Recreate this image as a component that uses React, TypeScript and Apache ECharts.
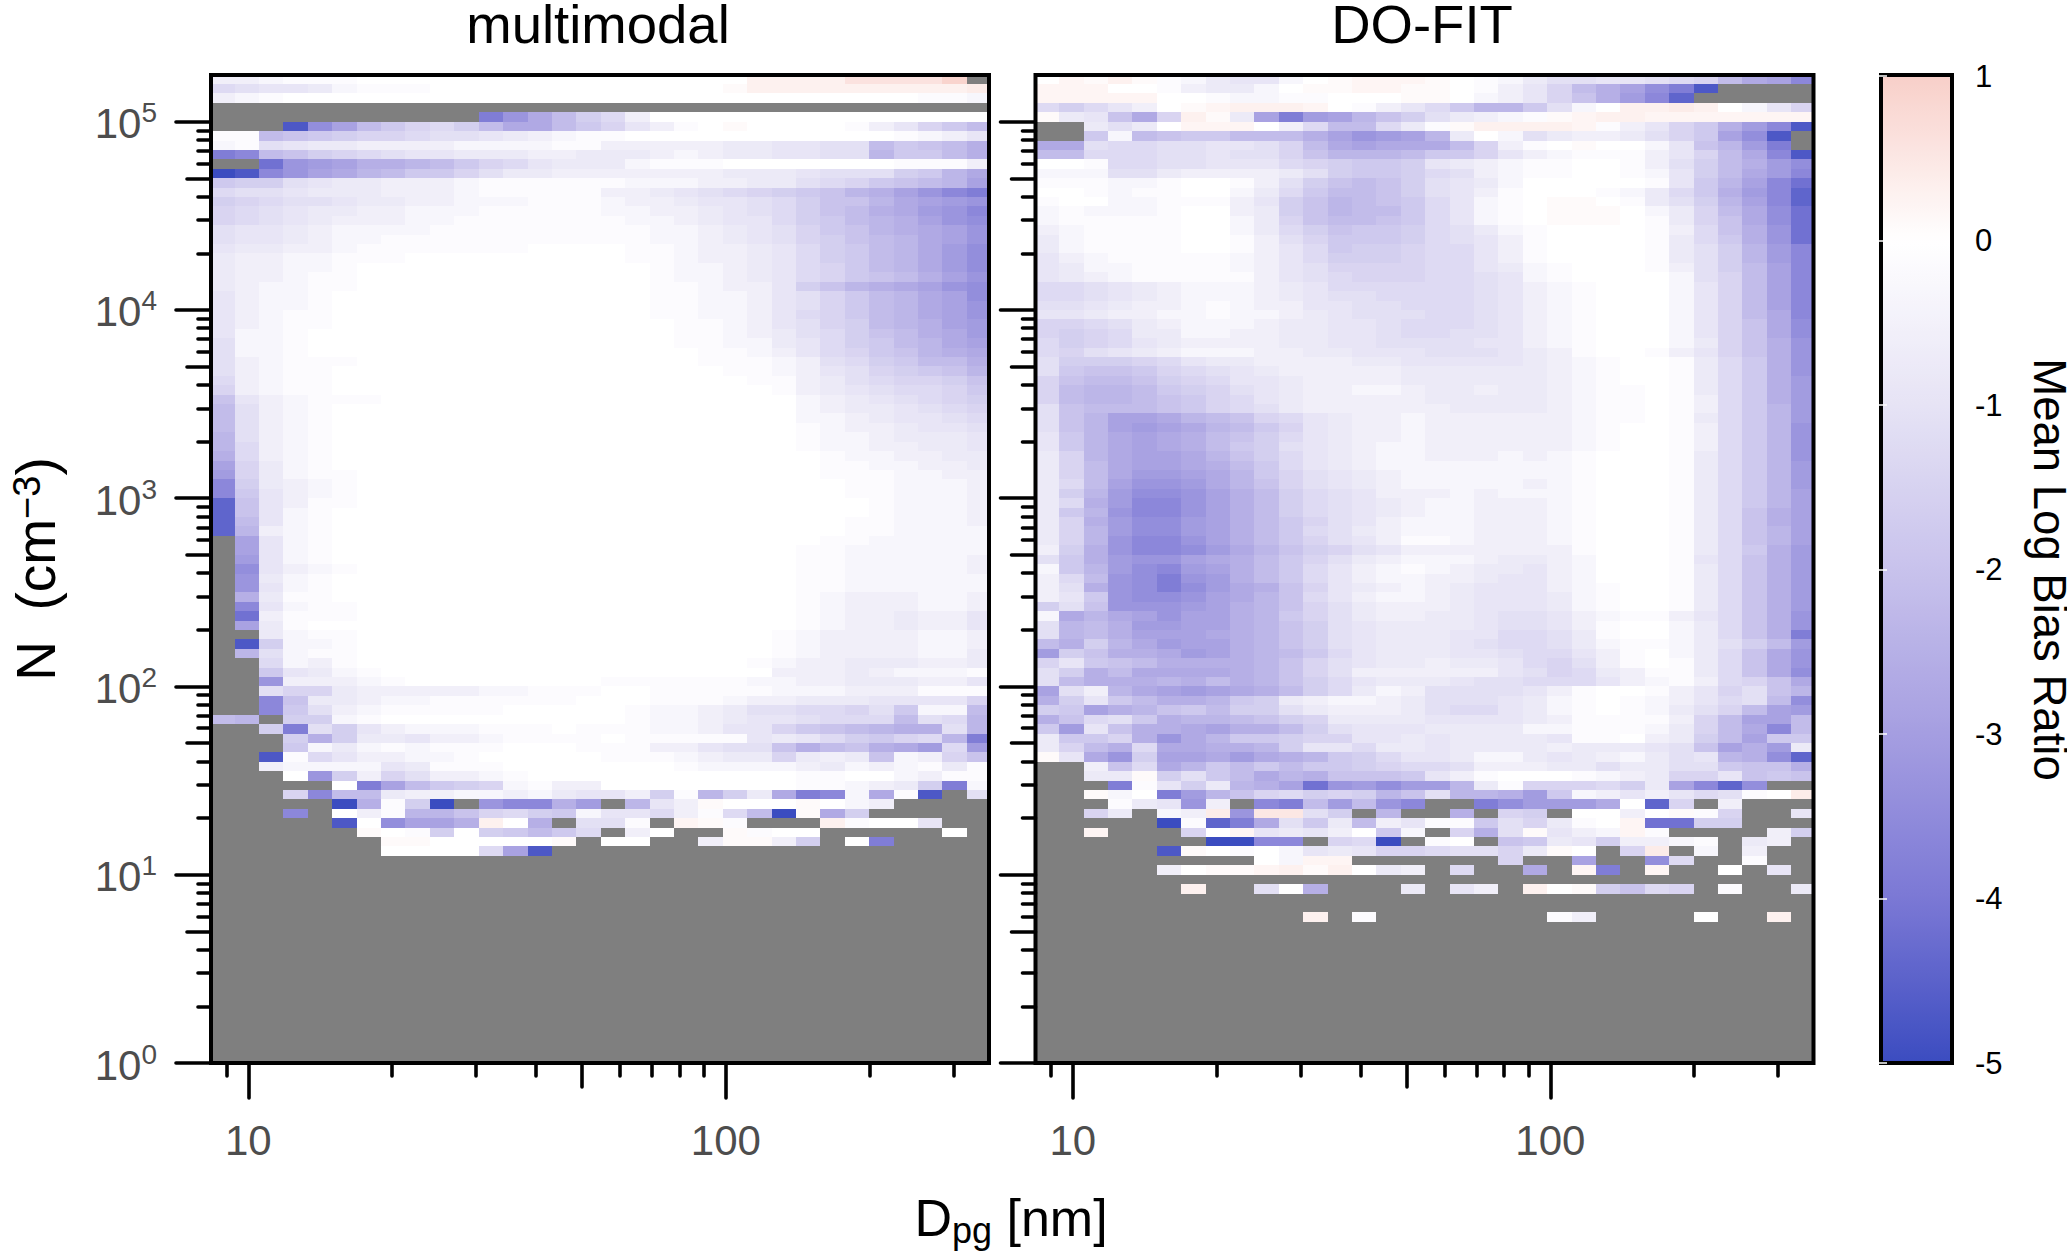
import React, { useEffect, useRef } from "react";
import * as echarts from "echarts";

// One string per N bin (top to bottom), one character per Dpg bin (left to right; '|' only marks mid-row).
// '#': no data; digits/lowercase: index into levelValues; 'A'..'J': value = +0.1 .. +1.0
const levelValues = [
  0, -0.14, -0.32, -0.56, -0.76, -0.94, -1.1, -1.26, -1.44, -1.62, -1.8, -1.98, -2.16,
  -2.34, -2.52, -2.7, -2.88, -3.06, -3.24, -3.42, -3.6, -3.88, -4.16, -4.44, -4.72, -5,
];

const multimodalRows: string[] = [
  "3321110000000000|000000CCCCFFFFI#",
  "7655421110000000|00000ACCCCCCCCCD",
  "3210000000000000|0000000000000112",
  "",
  "###########lifc9|7300000000000000",
  "###ojgca879cffca|85310A00001358ac",
  "11cba98876654321|1000000000001235",
  "2165443333222211|33333445566cabce",
  "lkcb987655444334|44323445566daace",
  "##mihgeedca87544|4211100000001113",
  "pokigfdcaa864433|3333344456669adf",
  "a996544333211111|12223344678abcdg",
  "7665444333211111|33456789abdegikl",
  "9876654433222111|233455679bbdfghi",
  "8765443322211111|223345679bcefhik",
  "8765433322111111|122345579acdegij",
  "6554322221111111|112234568abdefgi",
  "6554322111111111|1122345689bcdfgi",
  "5443321111111000|0112334579acdfhj",
  "4332211100000000|0112334579acdfhj",
  "4332210000000000|0012234578acdfhj",
  "4332110000000000|0012234578abcegi",
  "4322110000000000|001123359bdefgij",
  "5322100000000000|0011223568acdfgj",
  "5322100000000000|0011223568acdfgi",
  "5321100000000000|0011223578acdfgi",
  "5321100000000000|00011235689cdegh",
  "5221000000000000|00011234679bcefh",
  "6221000000000000|00011224579acdfg",
  "6221000000000000|00001123578abdef",
  "6321110000000000|000011123679acce",
  "6321100000000000|0000011235689abd",
  "7321100000000000|000000113467889b",
  "8321100000000000|000000013456778a",
  "b532111000000000|0000000023456789",
  "c632100000000000|0000000023445678",
  "c632100000000000|0000000022345567",
  "c632100000000000|0000000012334556",
  "d632100000000000|0000000012234445",
  "d732100000000000|0000000012233445",
  "e732100000000000|0000000001223344",
  "g842100000000000|0000000001122334",
  "h842110000000000|0000000001112233",
  "k943210000000000|0000000000112223",
  "ka53210000000000|0000000000112223",
  "nb53110000000000|0000000000012223",
  "nb52100000000000|0000000000012223",
  "nc52100000000000|0000000000112223",
  "nd32100000000000|0000000000112222",
  "#g52100000000000|0000000001122222",
  "#g52100000000000|0000000011222222",
  "#h52100000000000|0000000011222223",
  "#j53210000000000|0000000011222223",
  "#i42100000000000|0000000011222222",
  "#i52100000000000|0000000011222222",
  "#e41100000000000|0000000012333223",
  "#k52110000000000|0000000012333223",
  "#m31110000000000|0000000012334335",
  "#g41000000000000|0000000012334335",
  "##42110000000000|0000000123333223",
  "#o92210000000000|0000000123333223",
  "#d62110000000000|0000000123333224",
  "##72310000000000|0000001233444334",
  "##a5421000000000|0000000333432221",
  "##i3332100000000|1111112233444335",
  "##68843333322111|0011111222333111",
  "##kb443221111110|0011123344455558",
  "##ka632111110000|012234667786a22c",
  "cd#9921000000000|012234556777c67d",
  "##9l695322211101|11223558abcdee6d",
  "###9e94453321111|01111154579a87dl",
  "###a242121110001|1133566becbefh7h",
  "##o1753322100000|11123448434b238b",
  "##32222541110000|0001222234232141",
  "###0i93863321000|0000000011002311",
  "#####0lgca982133|00000000112349l2",
  "###8kcc433223245|5391d94flk2f1o#6",
  "#####pe19p#ikkeh|#d53A000A023####",
  "###k#031ddb879a2|557317cpAf9#####",
  "#####o0jggeC0e#6|61#BA1###C1005##",
  "######A01909aca7|#30##A100#####0#",
  "#######AA00000A#|00##3AA39#0l####",
  "#######00007go##|################",
];

const doFitRows: string[] = [
  "0BACA1245520ABBB|A01246655678cfgk",
  "BBB00134420AABBA|A01358cegjlo####",
  "BBBBB0012211000A|A02358behkn#####",
  "797530ABCCCB0135|7adda620CCDC0258",
  "A45bf8CA4glhgdb9|64321ABCCBBBBBBB",
  "##4640BBB037cc74|1ACCCCB1358aehko",
  "##a2cbaacccegihg|d4026433468agjo#",
  "ff677665568cfgff|fc8310A0025bdhl#",
  "cc777665668bdddc|aa8532111358cfko",
  "0017766555789aa9|543211001369cehj",
  "2226643333469aa9|763211001259cfhk",
  "111221001369bcb9|65420000015adgkm",
  "00121100247accb9|65310001247aehkn",
  "10022111359bdcba|75210AA01469dgkn",
  "21222100349bdcca|75210AAA0248cfjm",
  "21111100248bccba|75210AAA0148bfjm",
  "321111002479baa9|764210000137beim",
  "421111001368aaa9|765310000147aeim",
  "421111001357a998|7753100001469dhk",
  "5321111123579998|7753100001469dhk",
  "5422111123568888|7754210001369cgk",
  "5432111113567888|7765210000268cgk",
  "7765432223457777|7765321000258cgk",
  "7765432223456677|7765321000258cgk",
  "6654332123355667|7765321000258cgk",
  "5543322122345666|7765321000258cfk",
  "8876432223445567|7765321000258bfj",
  "8987442233445567|7665321000258bfj",
  "7987543333445566|6655321000248bei",
  "7865432223344555|6665431001358bei",
  "6999875443333445|5555432100147aei",
  "6abba87654333334|4444432100147aei",
  "8bccb98755433334|4444432100147aeh",
  "8cddca9865433223|4434432110147aeh",
  "8cddcba875433333|4444432110137aeh",
  "6bcccba876433333|3444432110137adh",
  "6bdggfdcb8754332|3333332110147adh",
  "6bdghgfdca854332|3333332100137adi",
  "5adfgfecb9754332|3333332100137adi",
  "5adfgfeca9654322|3333332100137adi",
  "48dfggfdb9754322|3332321000147adi",
  "48cfggfeca754322|2222221000147adh",
  "48cfhhgfda865432|2222221000147adh",
  "47cgiihfdb865432|2222321000147adh",
  "49dhjjigec976533|3232221000147adg",
  "47ehkkigec976543|2233321000147adg",
  "4adikkigec976543|2233321000147beg",
  "48ehjjhgeca86532|2233321000147beg",
  "48dhjjhgeca76432|2233321000147bdg",
  "48dikkigeca86531|1233321000147bdg",
  "39eikkjhfdb98653|3333331000147aeh",
  "6aehiigfeca86432|2234432000157beh",
  "2adhjkhgeca75321|2344532000147beh",
  "37cijliheca75322|3345532000147beh",
  "36eijljhfeb85432|3455532100147beh",
  "35aijjigfdb75322|3455542100147beh",
  "96biiihgedb86433|3455542100147beh",
  "2fdfgiggeda86433|4456653211357bei",
  "6dcehhggedb96544|4456653100247bei",
  "6dcegggfedb96544|4557764100247bel",
  "ce9dfhggedb96544|45677642112469ch",
  "h9beefhgedca7544|4556775310247bfi",
  "85abceeeedb86544|3445786310147bfi",
  "69ecffffedb86333|3335687431147bfj",
  "6ceeedecedb97544|45667775321378bf",
  "g63dfghgfec97423|66665310013586bd",
  "e95aceeda9432234|66654210123576cj",
  "9agedbac99643334|6775421012468cgh",
  "eb76aeddcb984444|555543111138cggc",
  "ah5beefgeec96555|444422111248cfkc",
  "4aa8eifdaa988554|544445110349cgaa",
  "48ce7ffeed955744|54444344456bgeh4",
  "A5fi9ggfhfeda975|542245432465dejn",
  "##3b7fdacacaa987|763334464466abbe",
  "##44A96acfdebbba|5310001234885bab",
  "###l1594degmihjh|hd41888794gknj##",
  "##A20lhdb87989db|6ddeha235357610D",
  "###145i3#klchcik|##ljhhhf0n8#3###",
  "##84#23DiEE69#d#|#e#89#0030A18##5",
  "#####p1nlf6a4c35|11a68410Bmm99###",
  "##B###80B54530a2|#8e6A532B1####39",
  "#######ppkk#87p#|10#ba4593321#43#",
  "#####oA010254588|76684A0#8D#2#3##",
  "#########02BB###|###8##g##j7##1##",
  "#####30AABCAC043|#7##f#Bl#B##0#5#",
  "",
  "######C##60e###4|#53#C0A9b78#1##4",
  "",
  "",
  "###########C#1##|#####13####0##C#",
];

const panelTitles = ["multimodal", "DO-FIT"];
const xLong = [10, 100];
const xMid = [50];
const xShort = [9, 20, 30, 40, 60, 70, 80, 90, 200, 300];
const yLong = [1, 10, 100, 1000, 10000, 100000];
const yMid = [5, 50, 500, 5000, 50000];
const yShort = [1, 10, 100, 1000, 10000, 100000]
  .flatMap((d) => [2, 3, 4, 6, 7, 8, 9].map((m) => m * d))
  .filter((v) => v < 170000);
const colorbarTicks = [-5, -4, -3, -2, -1, 0, 1];
const rampColors = ["#3b4cc0", "#7b78d5", "#a59ee1", "#c8c2ec", "#e6e3f5", "#ffffff", "#f8cfc9"];

const FONT = "Liberation Sans";
const X_MIN = 0.922;
const X_MAX = 2.551;
const Y_MAX = 5.248;
const COL0_END = 0.9715;
const COL_STEP = 0.0511;
const ROW_STEP = 0.05;
const TOP = 75;
const HEIGHT = 988;
const WIDTH = 778;
const LEFTS = [211, 1035.5];

function decode(ch: string): number | null {
  if (ch === "#") return null;
  if (ch >= "A" && ch <= "J") return (ch.charCodeAt(0) - 64) * 0.1;
  return levelValues[parseInt(ch, 36)];
}

function cells(rows: string[]) {
  const out: number[][] = [];
  rows.forEach((row, k) => {
    const yTop = 5.25 - ROW_STEP * k;
    Array.from(row.replace(/[| ]/g, "")).forEach((ch, c) => {
      const v = decode(ch);
      if (v === null || v === undefined) return;
      const x0 = COL0_END + COL_STEP * (c - 1);
      out.push([x0, yTop, x0 + COL_STEP, yTop - ROW_STEP, v]);
    });
  });
  return out;
}

const renderCell = (_p: any, api: any) => {
  const a = api.coord([api.value(0), api.value(1)]);
  const b = api.coord([api.value(2), api.value(3)]);
  const x = Math.round(a[0]);
  const y = Math.round(a[1]);
  return {
    type: "rect",
    shape: { x, y, width: Math.round(b[0]) - x, height: Math.round(b[1]) - y },
    style: { fill: api.visual("color") },
  };
};

function tickStyle(length: number, vals: number[]) {
  return {
    show: true,
    length,
    customValues: vals.map((v) => Math.log10(v)),
    lineStyle: { color: "#000", width: 3.6, cap: "round" },
  };
}

function buildOption() {
  const grid: any[] = [];
  const xAxis: any[] = [];
  const yAxis: any[] = [];
  const series: any[] = [];
  const levels = [
    { x: xLong, y: yLong, len: 35 },
    { x: xMid, y: yMid, len: 24 },
    { x: xShort, y: yShort, len: 13 },
  ];
  LEFTS.forEach((left, p) => {
    levels.forEach((lvl, li) => {
      const gi = grid.length;
      grid.push({
        left,
        top: TOP,
        width: WIDTH,
        height: HEIGHT,
        show: li === 0,
        backgroundColor: "#7f7f7f",
        borderWidth: 0,
        outerBoundsMode: "none",
      });
      xAxis.push({
        type: "value",
        gridIndex: gi,
        min: X_MIN,
        max: X_MAX,
        splitLine: { show: false },
        axisLine: { show: false },
        axisTick: tickStyle(lvl.len, lvl.x),
        axisLabel:
          li === 0
            ? {
                show: true,
                customValues: xLong.map((v) => Math.log10(v)),
                formatter: (v: number) => String(Math.round(Math.pow(10, v))),
                color: "#4d4d4d",
                fontFamily: FONT,
                fontSize: 42,
                margin: 56,
              }
            : { show: false },
      });
      const showY = li === 0 && p === 0;
      yAxis.push({
        type: "value",
        gridIndex: gi,
        min: 0,
        max: Y_MAX,
        splitLine: { show: false },
        axisLine: { show: false },
        axisTick: tickStyle(lvl.len, lvl.y),
        name: showY ? "N  (cm{sup|\u22123})" : undefined,
        nameLocation: "middle",
        nameRotate: 90,
        nameGap: 148,
        nameTextStyle: {
          fontFamily: FONT,
          fontSize: 55,
          color: "#000",
          rich: {
            sup: { fontFamily: FONT, fontSize: 38, color: "#000", verticalAlign: "top", lineHeight: 38 },
          },
        },
        axisLabel: showY
          ? {
              show: true,
              customValues: yLong.map((v) => Math.log10(v)),
              formatter: (v: number) => `{a|10}{b|${Math.round(v)}}`,
              margin: 54,
              rich: {
                a: {
                  fontFamily: FONT,
                  fontSize: 42,
                  color: "#4d4d4d",
                  lineHeight: 46,
                  padding: [16, 0, 0, 0],
                  verticalAlign: "bottom",
                },
                b: {
                  fontFamily: FONT,
                  fontSize: 28,
                  color: "#4d4d4d",
                  lineHeight: 28,
                  verticalAlign: "top",
                },
              },
            }
          : { show: false },
      });
      if (li === 0) {
        series.push({
          type: "custom",
          name: panelTitles[p],
          coordinateSystem: "cartesian2d",
          xAxisIndex: gi,
          yAxisIndex: gi,
          clip: true,
          silent: true,
          encode: { x: [0, 2], y: [1, 3] },
          data: cells(p === 0 ? multimodalRows : doFitRows),
          renderItem: renderCell,
          z: 2,
        });
      }
    });
  });

  // colour bar axes
  const cbGrid = grid.length;
  grid.push({ left: 1883, top: 76, width: 67, height: 987, show: false, outerBoundsMode: "none" });
  xAxis.push({ type: "value", gridIndex: cbGrid, show: false, min: 0, max: 1 });
  const cbTicks = {
    show: true,
    length: 4,
    customValues: colorbarTicks,
    lineStyle: { color: "#fff", width: 1.5 },
  };
  yAxis.push(
    {
      type: "value",
      gridIndex: cbGrid,
      position: "right",
      min: -5,
      max: 1,
      z: 200,
      splitLine: { show: false },
      axisLine: { show: false },
      axisTick: cbTicks,
      axisLabel: {
        show: true,
        customValues: colorbarTicks,
        color: "#000",
        fontFamily: FONT,
        fontSize: 31,
        margin: 25,
      },
      name: "Mean Log Bias Ratio",
      nameLocation: "middle",
      nameRotate: -90,
      nameGap: 80,
      nameTextStyle: { fontFamily: FONT, fontSize: 45.5, color: "#000", lineHeight: 38 },
    },
    {
      type: "value",
      gridIndex: cbGrid,
      position: "left",
      min: -5,
      max: 1,
      z: 200,
      splitLine: { show: false },
      axisLine: { show: false },
      axisTick: cbTicks,
      axisLabel: { show: false },
    }
  );

  const frame = (x: number, y: number, width: number, height: number) => ({
    type: "rect",
    shape: { x, y, width, height },
    style: { fill: "transparent", stroke: "#000", lineWidth: 4 },
    silent: true,
    z: 100,
  });

  const titleStyle = {
    fontFamily: FONT,
    fontSize: 54.5,
    fontWeight: "normal",
    color: "#000",
    lineHeight: 46,
  };
  return {
    animation: false,
    backgroundColor: "#fff",
    grid,
    xAxis,
    yAxis,
    series,
    title: [
      { text: panelTitles[0], left: 593, top: -4, textAlign: "center", textStyle: titleStyle },
      { text: panelTitles[1], left: 1417, top: -4, textAlign: "center", textStyle: titleStyle },
      {
        text: "D{sub|pg} [nm]",
        left: 1006,
        top: 1183,
        textAlign: "center",
        textStyle: {
          fontFamily: FONT,
          fontSize: 52,
          fontWeight: "normal",
          color: "#000",
          rich: {
            sub: { fontFamily: FONT, fontSize: 36, color: "#000", verticalAlign: "bottom", lineHeight: 60 },
          },
        },
      },
    ],
    visualMap: {
      type: "continuous",
      min: -5,
      max: 1,
      dimension: 4,
      seriesIndex: [0, 1],
      calculable: false,
      hoverLink: false,
      left: 1883,
      top: 76,
      padding: 0,
      itemWidth: 67,
      itemHeight: 987,
      inRange: { color: rampColors },
      textStyle: { fontSize: 1, color: "transparent" },
    },
    graphic: [
      frame(LEFTS[0], TOP, WIDTH, HEIGHT),
      frame(LEFTS[1], TOP, WIDTH, HEIGHT),
      frame(1881, 75, 71, 988),
    ],
  };
}

export default function App() {
  const ref = useRef<HTMLDivElement>(null);
  useEffect(() => {
    const chart = echarts.init(ref.current!, undefined, { renderer: "svg" });
    chart.setOption(buildOption() as any);
    return () => chart.dispose();
  }, []);
  return (
    <div
      ref={ref}
      style={{ position: "fixed", left: 0, top: 0, width: 2067, height: 1253, background: "#fff" }}
    />
  );
}
